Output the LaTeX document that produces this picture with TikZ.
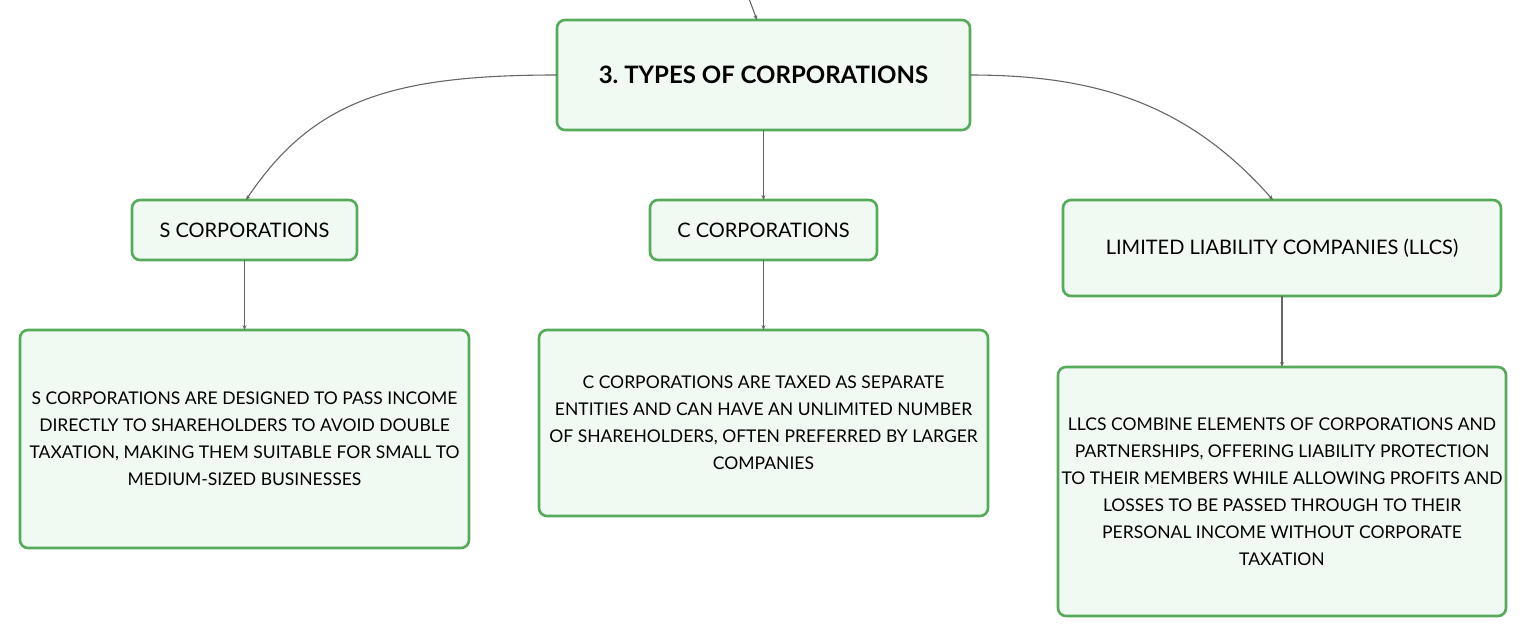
\documentclass[tikz,border=0pt]{standalone}
\usepackage{fontspec}
\setmainfont{Lato}
\usetikzlibrary{arrows.meta}
\definecolor{boxgreen}{HTML}{56AB5A}
\definecolor{boxfill}{HTML}{F0F9F2}
\definecolor{conngray}{HTML}{666666}
\frenchspacing
\tikzset{
  card/.style={draw=boxgreen, fill=boxfill, line width=2.6pt, rounded corners=8pt,
    inner sep=0pt, outer sep=0pt, align=center, text=black},
  headbox/.style={card, font=\fontsize{24}{28}\selectfont\bfseries},
  typebox/.style={card, font=\fontsize{20}{24}\selectfont},
  descbox/.style={card, font=\fontsize{17.5}{27}\selectfont},
  conn/.style={draw=conngray, line width=1.1pt, -{Stealth[length=5pt,width=4pt]}},
}
\begin{document}
\begin{tikzpicture}[x=1pt,y=-1pt]
\useasboundingbox (0,0) rectangle (1527,638);
\node[headbox, minimum width=413pt, minimum height=110pt] (top) at (763.5,75) {3. TYPES OF CORPORATIONS};
\node[typebox, minimum width=225pt, minimum height=60pt] (s) at (244.5,230) {S CORPORATIONS};
\node[typebox, minimum width=227pt, minimum height=60pt] (c) at (763.5,230) {C CORPORATIONS};
\node[typebox, minimum width=438pt, minimum height=96pt] (l) at (1282,248) {LIMITED LIABILITY COMPANIES (LLCS)};
\node[descbox, minimum width=449pt, minimum height=218pt] (sd) at (244.5,439) {S CORPORATIONS ARE DESIGNED TO PASS INCOME\\DIRECTLY TO SHAREHOLDERS TO AVOID DOUBLE\\TAXATION, MAKING THEM SUITABLE FOR SMALL TO\\MEDIUM-SIZED BUSINESSES};
\node[descbox, minimum width=449pt, minimum height=186pt] (cd) at (763.5,423) {C CORPORATIONS ARE TAXED AS SEPARATE\\ENTITIES AND CAN HAVE AN UNLIMITED NUMBER\\OF SHAREHOLDERS, OFTEN PREFERRED BY LARGER\\COMPANIES};
\node[descbox, minimum width=448pt, minimum height=249pt] (ld) at (1282,491.5) {LLCS COMBINE ELEMENTS OF CORPORATIONS AND\\PARTNERSHIPS, OFFERING LIABILITY PROTECTION\\TO THEIR MEMBERS WHILE ALLOWING PROFITS AND\\LOSSES TO BE PASSED THROUGH TO THEIR\\PERSONAL INCOME WITHOUT CORPORATE\\TAXATION};
\coordinate (in) at (748,-4);
\draw[conn] (in) -- ([xshift=-6.5pt]top.north);
\draw[conn] (top.west) .. controls (392,75) and (313,100) .. ([xshift=1.5pt]s.north);
\draw[conn] (top.east) .. controls (1094,75) and (1187,102.5) .. ([xshift=-9pt]l.north);
\draw[conn] (top.south) -- (c.north);
\draw[conn] (s.south) -- (sd.north);
\draw[conn] (c.south) -- (cd.north);
\draw[conn] (l.south) -- (ld.north);
\end{tikzpicture}
\end{document}
